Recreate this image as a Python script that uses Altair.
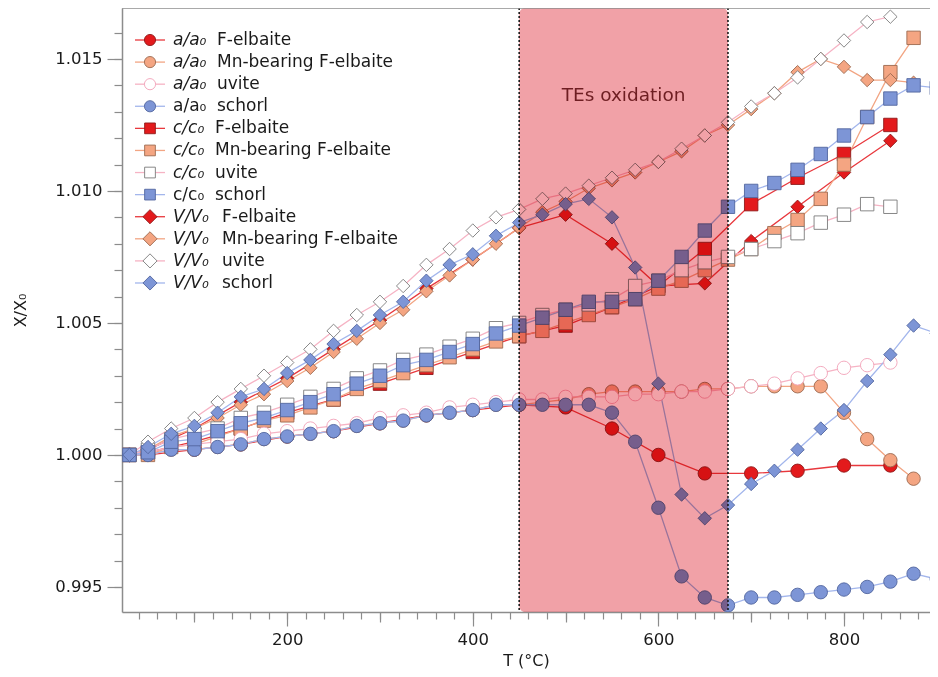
import altair as alt
import pandas as pd

# ---------------- data ----------------
T_F = [30, 50, 100, 150, 200, 250, 300, 350, 400, 450, 500, 550, 600, 650, 700, 750, 800, 850]
T_MN = [30, 50, 75, 100, 125, 150, 175, 200, 225, 250, 275, 300, 325, 350, 375, 400, 425, 450,
        475, 500, 525, 550, 575, 600, 625, 650, 675, 700, 725, 750, 775, 800, 825, 850, 875]
T_U = [30, 50, 75, 100, 125, 150, 175, 200, 225, 250, 275, 300, 325, 350, 375, 400, 425, 450,
       475, 500, 525, 550, 575, 600, 625, 650, 675, 700, 725, 750, 775, 800, 825, 850]
T_S = [30, 50, 75, 100, 125, 150, 175, 200, 225, 250, 275, 300, 325, 350, 375, 400, 425, 450,
       475, 500, 525, 550, 575, 600, 625, 650, 675, 700, 725, 750, 775, 800, 825, 850, 875, 900]

F_A = [1.0000, 1.0000, 1.0002, 1.0004, 1.0007, 1.0009, 1.0012, 1.0015, 1.0017, 1.0019,
       1.0018, 1.0010, 1.0000, 0.9993, 0.9993, 0.9994, 0.9996, 0.9996]
F_C = [1.0000, 1.0001, 1.0005, 1.0010, 1.0016, 1.0021, 1.0027, 1.0033, 1.0039, 1.0045,
       1.0049, 1.0056, 1.0064, 1.0078, 1.0095, 1.0105, 1.0114, 1.0125]
F_V = [1.0000, 1.0002, 1.0010, 1.0020, 1.0029, 1.0040, 1.0051, 1.0063, 1.0074, 1.0086,
       1.0091, 1.0080, 1.0064, 1.0065, 1.0081, 1.0094, 1.0107, 1.0119]

MN_A = [1.0000, 1.0000, 1.0002, 1.0002, 1.0003, 1.0004, 1.0006, 1.0007, 1.0008, 1.0009,
        1.0011, 1.0012, 1.0013, 1.0015, 1.0016, 1.0017, 1.0019, 1.0019, 1.0020, 1.0021,
        1.0023, 1.0024, 1.0024, 1.0024, 1.0024, 1.0025, 1.0025, 1.0026, 1.0026, 1.0026,
        1.0026, 1.0016, 1.0006, 0.9998, 0.9991]
MN_C = [1.0000, 1.0000, 1.0003, 1.0004, 1.0007, 1.0010, 1.0013, 1.0015, 1.0018, 1.0021,
        1.0025, 1.0028, 1.0031, 1.0034, 1.0037, 1.0040, 1.0043, 1.0045, 1.0047, 1.0050,
        1.0053, 1.0056, 1.0059, 1.0063, 1.0066, 1.0070, 1.0074, 1.0078, 1.0084, 1.0089,
        1.0097, 1.0110, 1.0128, 1.0145, 1.0158]
MN_V = [1.0000, 1.0002, 1.0007, 1.0010, 1.0014, 1.0019, 1.0023, 1.0028, 1.0033, 1.0039,
        1.0044, 1.0050, 1.0055, 1.0062, 1.0068, 1.0074, 1.0080, 1.0086, 1.0092, 1.0096,
        1.0101, 1.0104, 1.0107, 1.0111, 1.0115, 1.0121, 1.0125, 1.0131, 1.0137, 1.0145,
        1.0150, 1.0147, 1.0142, 1.0142, 1.0141]

U_A = [1.0000, 1.0001, 1.0003, 1.0004, 1.0005, 1.0006, 1.0008, 1.0009, 1.0010, 1.0011,
       1.0012, 1.0014, 1.0015, 1.0016, 1.0018, 1.0019, 1.0020, 1.0021, 1.0021, 1.0022,
       1.0022, 1.0022, 1.0023, 1.0023, 1.0024, 1.0024, 1.0025, 1.0026, 1.0027, 1.0029,
       1.0031, 1.0033, 1.0034, 1.0035]
U_C = [1.0000, 1.0002, 1.0006, 1.0008, 1.0010, 1.0014, 1.0016, 1.0019, 1.0022, 1.0025,
       1.0029, 1.0032, 1.0036, 1.0038, 1.0041, 1.0044, 1.0048, 1.0050, 1.0053, 1.0055,
       1.0057, 1.0059, 1.0064, 1.0066, 1.0070, 1.0073, 1.0075, 1.0078, 1.0081, 1.0084,
       1.0088, 1.0091, 1.0095, 1.0094]
U_V = [1.0000, 1.0005, 1.0010, 1.0014, 1.0020, 1.0025, 1.0030, 1.0035, 1.0040, 1.0047,
       1.0053, 1.0058, 1.0064, 1.0072, 1.0078, 1.0085, 1.0090, 1.0093, 1.0097, 1.0099,
       1.0102, 1.0105, 1.0108, 1.0111, 1.0116, 1.0121, 1.0126, 1.0132, 1.0137, 1.0143,
       1.0150, 1.0157, 1.0164, 1.0166]

S_A = [1.0000, 1.0000, 1.0002, 1.0002, 1.0003, 1.0004, 1.0006, 1.0007, 1.0008, 1.0009,
       1.0011, 1.0012, 1.0013, 1.0015, 1.0016, 1.0017, 1.0019, 1.0019, 1.0019, 1.0019,
       1.0019, 1.0016, 1.0005, 0.9980, 0.9954, 0.9946, 0.9943, 0.9946, 0.9946, 0.9947,
       0.9948, 0.9949, 0.9950, 0.9952, 0.9955, 0.9953]
S_C = [1.0000, 1.0001, 1.0005, 1.0006, 1.0009, 1.0012, 1.0014, 1.0017, 1.0020, 1.0023,
       1.0027, 1.0030, 1.0034, 1.0036, 1.0039, 1.0042, 1.0046, 1.0049, 1.0052, 1.0055,
       1.0058, 1.0058, 1.0059, 1.0066, 1.0075, 1.0085, 1.0094, 1.0100, 1.0103, 1.0108,
       1.0114, 1.0121, 1.0128, 1.0135, 1.0140, 1.0139]
S_V = [1.0000, 1.0003, 1.0008, 1.0011, 1.0016, 1.0022, 1.0025, 1.0031, 1.0036, 1.0042,
       1.0047, 1.0053, 1.0058, 1.0066, 1.0072, 1.0076, 1.0083, 1.0088, 1.0091, 1.0095,
       1.0097, 1.0090, 1.0071, 1.0027, 0.9985, 0.9976, 0.9981, 0.9989, 0.9994, 1.0002,
       1.0010, 1.0017, 1.0028, 1.0038, 1.0049, 1.0046]

MINERALS = ["F-elbaite", "Mn-bearing F-elbaite", "uvite", "schorl"]
PARAMS = ["a", "c", "V"]
PREFIXES = {"a": "a/a\u2080", "c": "c/c\u2080", "V": "V/V\u2080"}
TE_START = [450]
TE_END = [675]
TE_LABEL = ["TEs oxidation"]

DATA = {
    ("a", "F-elbaite"): (T_F, F_A), ("c", "F-elbaite"): (T_F, F_C), ("V", "F-elbaite"): (T_F, F_V),
    ("a", "Mn-bearing F-elbaite"): (T_MN, MN_A), ("c", "Mn-bearing F-elbaite"): (T_MN, MN_C),
    ("V", "Mn-bearing F-elbaite"): (T_MN, MN_V),
    ("a", "uvite"): (T_U, U_A), ("c", "uvite"): (T_U, U_C), ("V", "uvite"): (T_U, U_V),
    ("a", "schorl"): (T_S, S_A), ("c", "schorl"): (T_S, S_C), ("V", "schorl"): (T_S, S_V),
}

# ---------------- styling ----------------
W, H = 808, 604
X_DOMAIN = [22, 892.7]
Y_DOMAIN = [0.99405, 1.01693]
FONT = "DejaVu Sans"
AXIS_GRAY = "#8c8c8c"

FILL = {"F-elbaite": "#E31A1C", "Mn-bearing F-elbaite": "#F4A582", "uvite": "#FFFFFF", "schorl": "#7D95D6"}
LINEC = {"F-elbaite": "#E8383D", "Mn-bearing F-elbaite": "#F2A583", "uvite": "#F6B3C4", "schorl": "#A3B6EC"}
STROKE = {"F-elbaite": "#8E1A1A", "Mn-bearing F-elbaite": "#9C6A50", "uvite": "#7A7A7A", "schorl": "#52669F"}
SHAPE = {"a": "circle", "c": "square", "V": "diamond"}
SIZE = {"a": 180, "c": 165, "V": 310}
LEG_SIZE = {"a": 125, "c": 115, "V": 200}
NAME_X = {"a": 95, "c": 93, "V": 100}

SERIES = [f"{p} {m}" for p in PARAMS for m in MINERALS]
fill_scale = alt.Scale(domain=SERIES, range=[FILL[s.split(" ", 1)[1]] for s in SERIES])
line_scale = alt.Scale(domain=SERIES, range=[LINEC[s.split(" ", 1)[1]] for s in SERIES])
stroke_scale = alt.Scale(domain=SERIES, range=[
    ("#F2A2B8" if s == "a uvite" else STROKE[s.split(" ", 1)[1]]) for s in SERIES])
shape_scale = alt.Scale(domain=SERIES, range=[SHAPE[s.split(" ", 1)[0]] for s in SERIES])
size_scale = alt.Scale(domain=SERIES, range=[SIZE[s.split(" ", 1)[0]] for s in SERIES])

rows = []
for m in MINERALS:
    for p in PARAMS:
        ts, vs = DATA[(p, m)]
        for t, v in zip(ts, vs):
            rows.append({"T": t, "v": v, "series": f"{p} {m}"})
df = pd.DataFrame(rows)

xs = alt.Scale(domain=X_DOMAIN, nice=False, zero=False)
ys = alt.Scale(domain=Y_DOMAIN, nice=False, zero=False)

base = alt.Chart(df)

def x_axis_layer(values, tick, labels=False, title=None, domain=False):
    return base.mark_point(opacity=0).encode(
        x=alt.X("T:Q", scale=xs, axis=alt.Axis(orient="bottom", values=values, tickSize=tick,
                                                 labels=labels, title=title, domain=domain,
                                                 grid=False, labelPadding=5, titlePadding=5,
                                                 format="d")),
        y=alt.Y("v:Q", scale=ys, axis=None))

def y_axis_layer(values, tick, labels=False, title=None, domain=False):
    return base.mark_point(opacity=0).encode(
        x=alt.X("T:Q", scale=xs, axis=None),
        y=alt.Y("v:Q", scale=ys, axis=alt.Axis(orient="left", values=values, tickSize=tick,
                                                 labels=labels, title=title, domain=domain,
                                                 grid=False, format=".3f", labelPadding=5,
                                                 titlePadding=26)))

x_minor = x_axis_layer(list(range(40, 900, 20)), 7)
x_mid = x_axis_layer([100, 300, 500, 700], 10)
x_main = x_axis_layer([200, 400, 600, 800], 14, labels=True, title="T (°C)", domain=True)
y_minor = y_axis_layer([round(0.995 + 0.001 * k, 3) for k in range(-1, 22)], 8)
y_main = y_axis_layer([0.995, 1.000, 1.005, 1.010, 1.015], 15, labels=True, title="X/X\u2080", domain=True)

lines = base.mark_line(strokeWidth=1.3, clip=True).encode(
    x=alt.X("T:Q", scale=xs, axis=None),
    y=alt.Y("v:Q", scale=ys, axis=None),
    color=alt.Color("series:N", scale=line_scale, legend=None))

points = base.mark_point(filled=True, opacity=1, strokeWidth=0.9, clip=True).encode(
    x=alt.X("T:Q", scale=xs, axis=None),
    y=alt.Y("v:Q", scale=ys, axis=None),
    fill=alt.Fill("series:N", scale=fill_scale, legend=None),
    stroke=alt.Stroke("series:N", scale=stroke_scale, legend=None),
    shape=alt.Shape("series:N", scale=shape_scale, legend=None),
    size=alt.Size("series:N", scale=size_scale, legend=None))

te = pd.DataFrame({"start": TE_START, "end": TE_END, "label": TE_LABEL})
te["mid"] = (te["start"] + te["end"]) / 2
edges = pd.DataFrame({"T": TE_START + TE_END})

shade = alt.Chart(te).mark_rect(color="#F1A1A7", cornerRadius=6, blend="multiply").encode(
    x=alt.X("start:Q", scale=xs, axis=None), x2="end:Q",
    y=alt.value(0), y2=alt.value(H))
edge_rules = alt.Chart(edges).mark_rule(strokeDash=[2, 2], strokeWidth=1.6, color="#1a1a1a").encode(
    x=alt.X("T:Q", scale=xs, axis=None), y=alt.value(0), y2=alt.value(H))
te_text = alt.Chart(te).mark_text(font=FONT, fontSize=18.5, color="#6E1E22").encode(
    x=alt.X("mid:Q", scale=xs, axis=None), y=alt.value(87), text="label:N")
top_border = alt.Chart(te).mark_rule(color=AXIS_GRAY, strokeWidth=1.5).encode(
    x=alt.value(0), x2=alt.value(W), y=alt.value(0))

# ---------------- legend ----------------
leg_rows = []
for i, s in enumerate(SERIES):
    p, m = s.split(" ", 1)
    leg_rows.append({"row": i, "series": s, "param": p, "prefix": PREFIXES[p], "name": m,
                     "ital": 0 if (m == "schorl" and p in ("a", "c")) else 1, "nx": NAME_X[p]})
leg = alt.Chart(pd.DataFrame(leg_rows)).transform_calculate(ly="32 + 22.09 * datum.row")
ly = alt.Y("ly:Q", scale=None, axis=None)

leg_lines = leg.mark_rule(strokeWidth=1.3).encode(
    x=alt.value(13), x2=alt.value(43), y=ly,
    color=alt.Color("series:N", scale=line_scale, legend=None))
leg_pts = [
    leg.transform_filter(alt.datum.param == p).mark_point(
        filled=True, opacity=1, strokeWidth=0.9, size=LEG_SIZE[p]).encode(
        x=alt.value(28), y=ly,
        fill=alt.Fill("series:N", scale=fill_scale, legend=None),
        stroke=alt.Stroke("series:N", scale=stroke_scale, legend=None),
        shape=alt.Shape("series:N", scale=shape_scale, legend=None))
    for p in PARAMS]
leg_pref_i = leg.transform_filter(alt.datum.ital == 1).mark_text(
    align="left", baseline="middle", font=FONT, fontSize=17, fontStyle="italic", color="#1a1a1a").encode(
    x=alt.value(51), y=ly, text="prefix:N")
leg_pref_n = leg.transform_filter(alt.datum.ital == 0).mark_text(
    align="left", baseline="middle", font=FONT, fontSize=17, color="#1a1a1a").encode(
    x=alt.value(51), y=ly, text="prefix:N")
leg_names = leg.mark_text(align="left", baseline="middle", font=FONT, fontSize=17, color="#1a1a1a").encode(
    x=alt.X("nx:Q", scale=None, axis=None), y=ly, text="name:N")

chart = alt.layer(
    x_minor, x_mid, x_main, y_minor, y_main,
    lines, points, shade, edge_rules, te_text, top_border,
    leg_lines, *leg_pts, leg_pref_i, leg_pref_n, leg_names,
).resolve_axis(x="independent", y="independent").properties(
    width=W, height=H,
    autosize=alt.AutoSizeParams(type="none"),
    padding={"left": 114, "top": 0, "right": 0, "bottom": 57},
).configure_view(stroke=None).configure_axis(
    labelFont=FONT, labelFontSize=16.5, labelColor="#1a1a1a",
    titleFont=FONT, titleFontSize=16, titleFontWeight="normal", titleColor="#1a1a1a",
    domainColor=AXIS_GRAY, domainWidth=1.5, tickColor=AXIS_GRAY, tickWidth=1.2,
)

chart.save("out.html", embed_options={"renderer": "svg", "actions": False})
